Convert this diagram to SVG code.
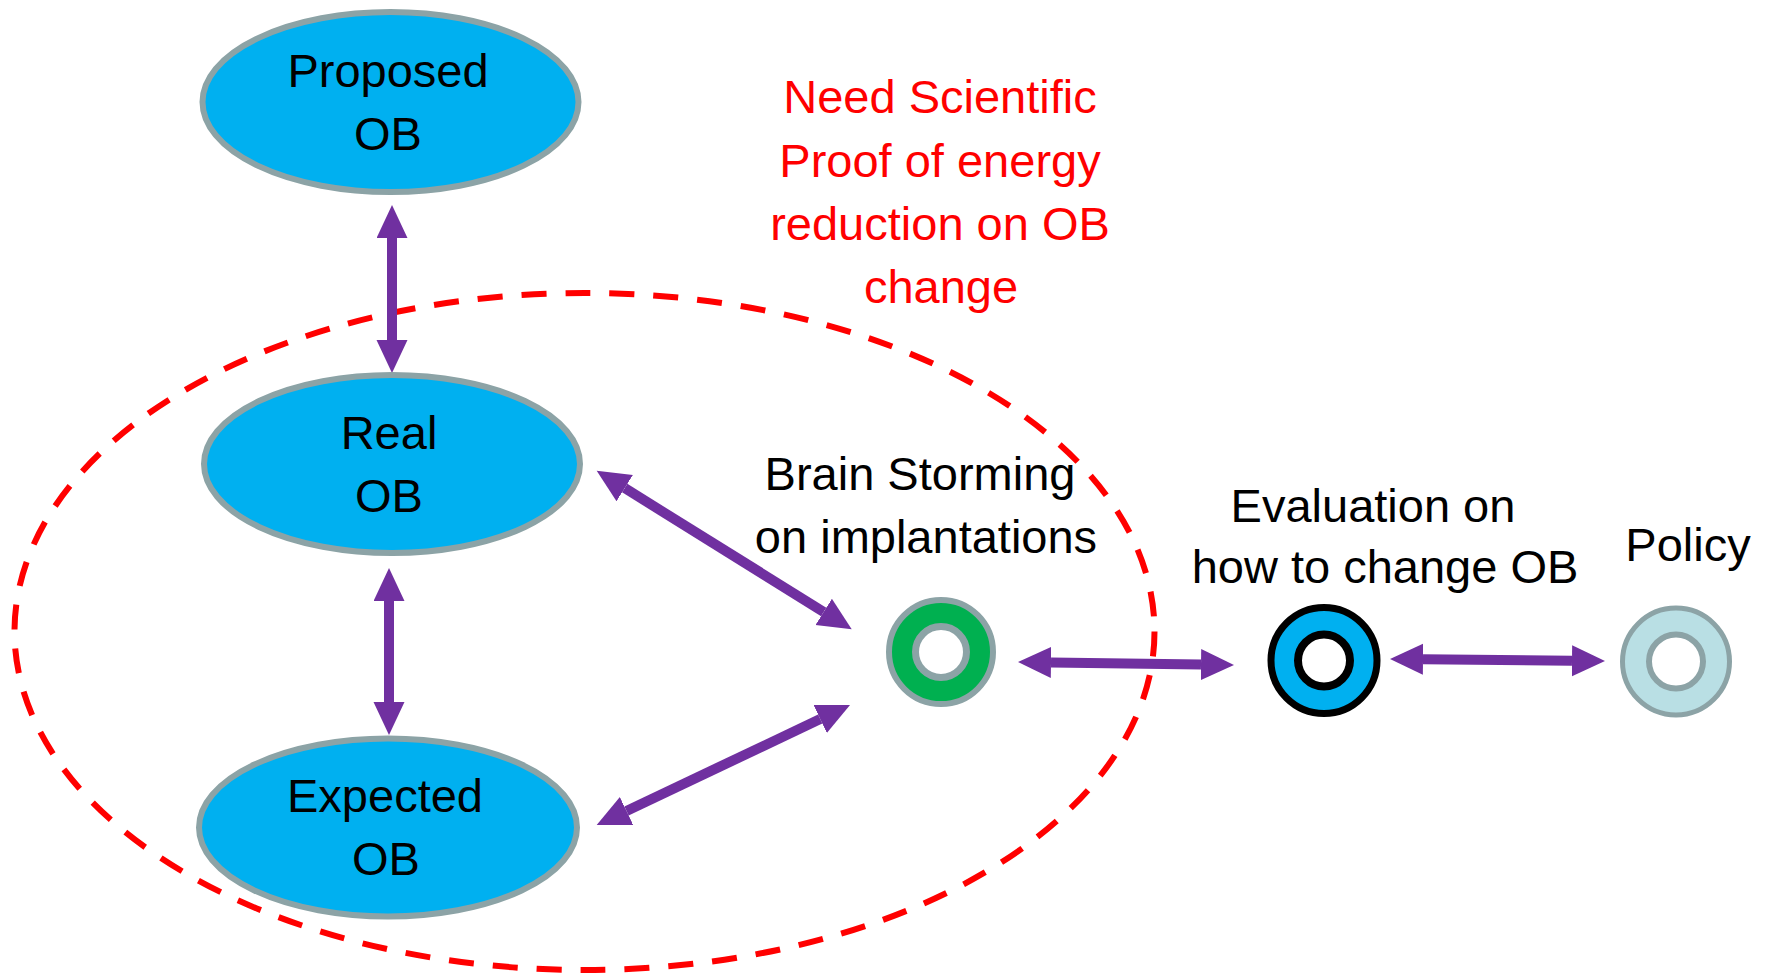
<svg xmlns="http://www.w3.org/2000/svg" width="1769" height="977" viewBox="0 0 1769 977">
<style>
.node{fill:#00B0F0;stroke:#8CA3A6;stroke-width:6}
.lbl{font-family:"Liberation Sans",Arial,sans-serif;font-size:47px;fill:#000;text-anchor:middle}
.red{fill:#FF0000}
.arr{stroke:#7030A0;stroke-width:10;fill:none;marker-start:url(#ah);marker-end:url(#ah)}
.hole{fill:#fff}
</style>
<defs>
<marker id="ah" markerUnits="userSpaceOnUse" markerWidth="34" markerHeight="32" refX="0" refY="15.5" orient="auto-start-reverse" viewBox="0 0 34 32">
<path d="M0,0 L33,15.5 L0,31 Z" fill="#7030A0"/>
</marker>
</defs>
<rect width="1769" height="977" fill="#fff"/>

<g id="scope">
<ellipse cx="584.5" cy="631.5" rx="570" ry="338.5" fill="none" stroke="#FF0000" stroke-width="6" stroke-dasharray="25 19"/>
</g>

<g id="note">
<text class="lbl red" x="940" y="113">Need Scientific</text>
<text class="lbl red" x="940" y="177">Proof of energy</text>
<text class="lbl red" x="940" y="240">reduction on OB</text>
<text class="lbl red" x="941" y="303">change</text>
</g>

<g id="connectors">
<line class="arr" x1="392" y1="238" x2="392" y2="340"/>
<line class="arr" x1="389" y1="601" x2="389" y2="702"/>
<line class="arr" x1="624.7" y1="488.1" x2="823.7" y2="611.9"/>
<line class="arr" x1="626.5" y1="810.9" x2="820.2" y2="719.1"/>
<line class="arr" x1="1051" y1="662.5" x2="1201" y2="664.5"/>
<line class="arr" x1="1423" y1="659.3" x2="1572" y2="660.7"/>
</g>

<g id="proposed">
<ellipse class="node" cx="390.5" cy="102" rx="188" ry="90"/>
<text class="lbl" x="388" y="87">Proposed</text>
<text class="lbl" x="388" y="150">OB</text>
</g>

<g id="real">
<ellipse class="node" cx="392" cy="464" rx="188" ry="89"/>
<text class="lbl" x="389" y="449">Real</text>
<text class="lbl" x="389" y="512">OB</text>
</g>

<g id="expected">
<ellipse class="node" cx="388" cy="827.5" rx="189" ry="89"/>
<text class="lbl" x="385" y="812">Expected</text>
<text class="lbl" x="386" y="875">OB</text>
</g>

<g id="brainstorming">
<circle cx="941" cy="652" r="52" fill="#00B050" stroke="#8CA3A6" stroke-width="6"/>
<circle class="hole" cx="941" cy="652" r="25.5" stroke="#8CA3A6" stroke-width="7"/>
<text class="lbl" x="920" y="490">Brain Storming</text>
<text class="lbl" x="926" y="553">on implantations</text>
</g>

<g id="evaluation">
<circle cx="1324" cy="660.5" r="53" fill="#00B0F0" stroke="#000" stroke-width="7"/>
<circle class="hole" cx="1324" cy="660.5" r="26" stroke="#000" stroke-width="8"/>
<text class="lbl" x="1373" y="522">Evaluation on</text>
<text class="lbl" x="1385" y="583">how to change OB</text>
</g>

<g id="policy">
<circle cx="1676" cy="661.5" r="53.5" fill="#B9DFE4" stroke="#8CA3A6" stroke-width="5"/>
<circle class="hole" cx="1676" cy="661.5" r="27" stroke="#8CA3A6" stroke-width="6"/>
<text class="lbl" x="1688" y="561">Policy</text>
</g>
</svg>
